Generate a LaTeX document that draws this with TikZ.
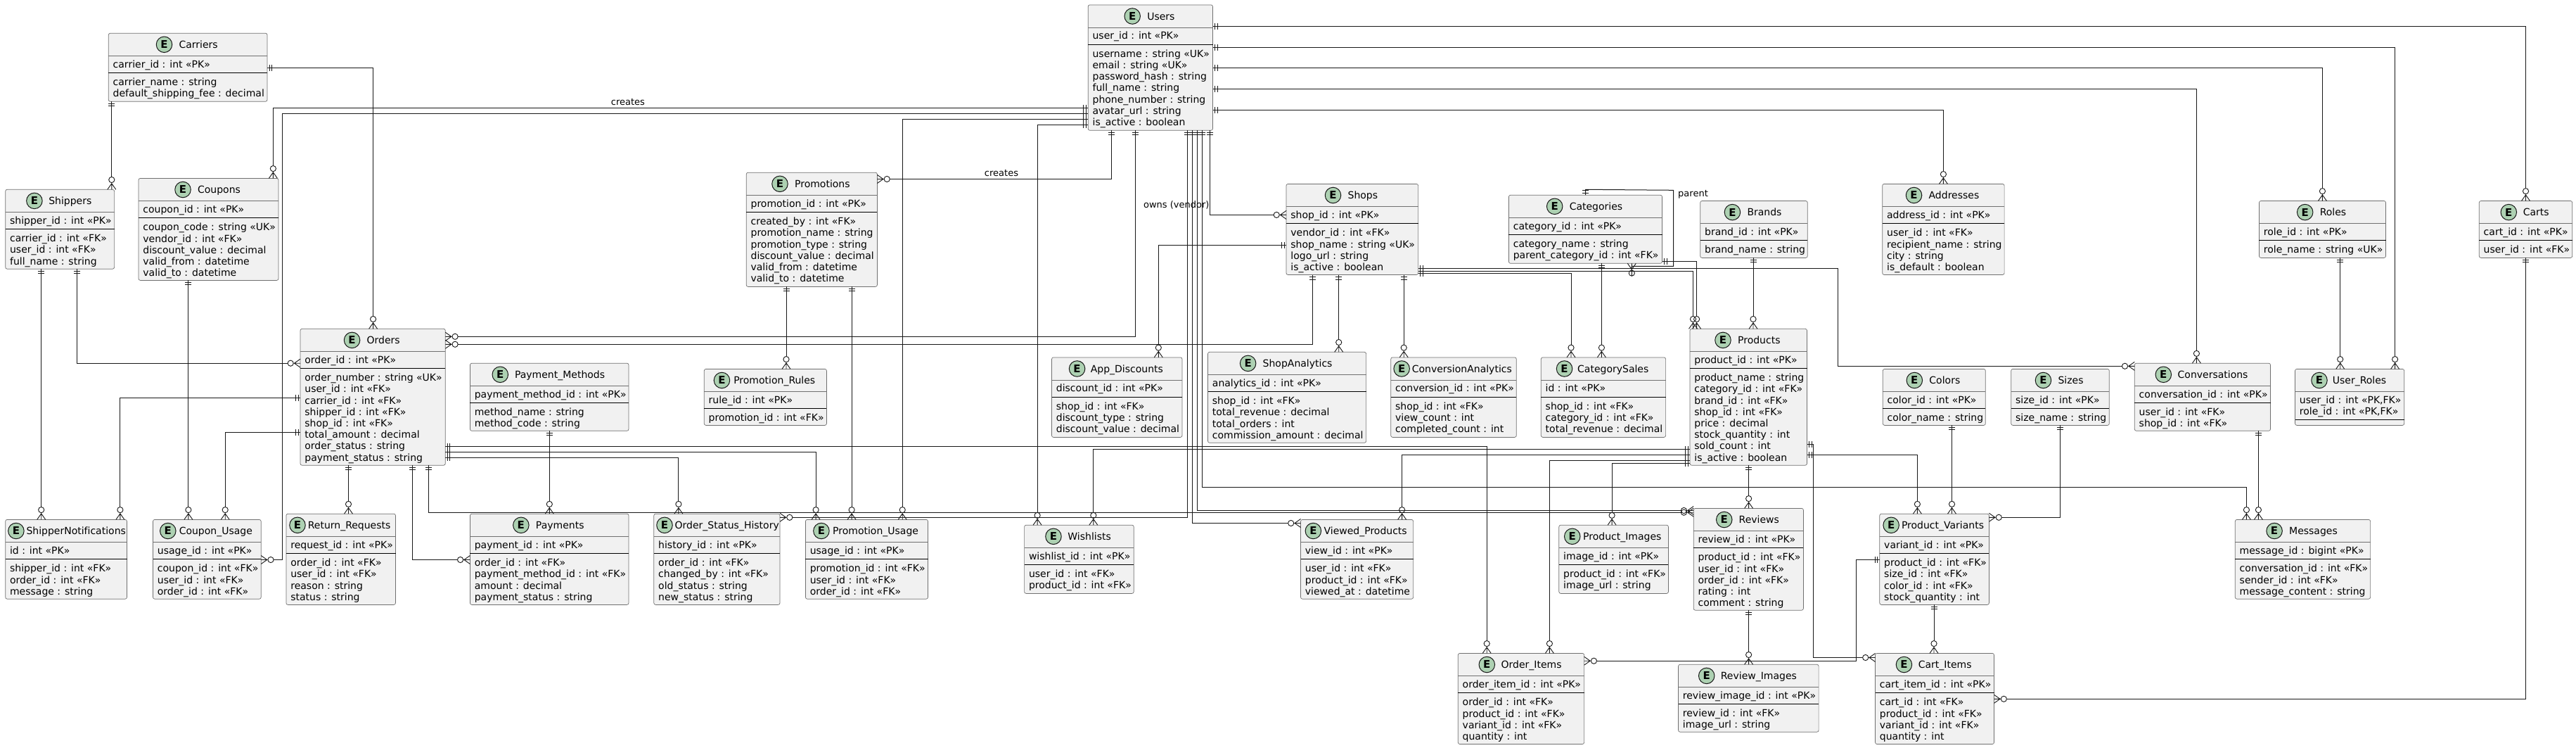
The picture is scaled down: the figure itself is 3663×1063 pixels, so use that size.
\documentclass[tikz,border=0pt]{standalone}
\usepackage{fontspec}
\setmainfont{DejaVu Sans}[Ligatures=NoCommon]
\font\titlemeasurefont="DejaVu Sans:-liga" at 14pt
\definecolor{entfill}{HTML}{F1F1F1}
\definecolor{entline}{HTML}{707070}
\definecolor{inkline}{HTML}{181818}
\definecolor{badge}{HTML}{ADD1B2}
\pgfdeclarearrow{
  name = ERone,
  setup code = {
    \pgfarrowssettipend{0pt}
    \pgfarrowssetlineend{0pt}
    \pgfarrowssetvisualtipend{0pt}
    \pgfarrowssetbackend{-7pt}
    \pgfarrowssetvisualbackend{-7pt}
  },
  drawing code = {
    \pgfsetlinewidth{0.9pt}
    \pgfpathmoveto{\pgfqpoint{-3pt}{-4.5pt}}
    \pgfpathlineto{\pgfqpoint{-3pt}{4.5pt}}
    \pgfpathmoveto{\pgfqpoint{-6.5pt}{-4.5pt}}
    \pgfpathlineto{\pgfqpoint{-6.5pt}{4.5pt}}
    \pgfusepathqstroke
  }
}
\pgfdeclarearrow{
  name = ERmany,
  setup code = {
    \pgfarrowssettipend{0pt}
    \pgfarrowssetlineend{-18pt}
    \pgfarrowssetvisualtipend{0pt}
    \pgfarrowssetbackend{-18pt}
    \pgfarrowssetvisualbackend{-18pt}
  },
  drawing code = {
    \pgfsetlinewidth{0.9pt}
    \pgfpathmoveto{\pgfqpoint{0pt}{-6pt}}
    \pgfpathlineto{\pgfqpoint{-8.5pt}{0pt}}
    \pgfpathlineto{\pgfqpoint{0pt}{6pt}}
    \pgfpathmoveto{\pgfqpoint{-8.5pt}{0pt}}
    \pgfpathlineto{\pgfqpoint{0pt}{0pt}}
    \pgfpathcircle{\pgfqpoint{-13.8pt}{0pt}}{4.1pt}
    \pgfusepathqstroke
  }
}
\catcode`\_=12
\newsavebox\titlebox
\tikzset{
  x=1pt, y=-1pt,
  entitybox/.style={draw=entline, fill=entfill, line width=0.7pt, rounded corners=2.5pt,
    inner sep=0pt, outer sep=0pt, anchor=north west},
  headrule/.style={draw=entline, line width=0.7pt},
  keyrule/.style={draw=black, line width=1pt},
  rowtext/.style={inner sep=0pt, anchor=base west, font=\fontsize{14pt}{16pt}\selectfont},
  titletext/.style={inner sep=0pt, anchor=base west, font=\fontsize{14pt}{16pt}\selectfont},
  badgecircle/.style={circle, draw=inkline, fill=badge, line width=1pt, minimum size=22.5pt, inner sep=0pt,
    font=\fontsize{15pt}{16pt}\selectfont\bfseries},
  link/.style={draw=inkline, line width=1pt, ERone-ERmany},
  linklabel/.style={inner sep=0pt, font=\fontsize{13pt}{15pt}\selectfont},
}
% name, x0, x1, y0, y1
\newcommand\entframe[5]{%
  \pgfmathsetmacro\ew{#3-#2}\pgfmathsetmacro\eh{#5-#4}%
  \node[entitybox, minimum width=\ew pt, minimum height=\eh pt] (#1) at (#2,#4) {};
  \sbox\titlebox{\titlemeasurefont #1}%
  \pgfmathsetmacro\tw{\the\wd\titlebox}%
  \pgfmathsetmacro\supp{max(0,\ew-30-\tw-6)}%
  \pgfmathsetmacro\hgap{min(6.5,\supp*0.1)}%
  \pgfmathsetmacro\cx{#2+(\supp-\hgap)/2+4+11.2}%
  \pgfmathsetmacro\tx{\cx+11.2+3.2+\hgap}%
  \pgfmathsetmacro\cy{#4+16.1}\pgfmathsetmacro\ty{#4+21.2}\pgfmathsetmacro\hy{#4+32.2}%
  \node[badgecircle] (#1-badge) at (\cx,\cy) {E};
  \node[titletext] (#1-title) at (\tx,\ty) {#1};
  \draw[headrule] (#1.west |- 0,\hy) -- (#1.east |- 0,\hy);
}
% name, x0, first baseline, tag, list
\newcommand\entrows[5]{%
  \foreach \rowitem [count=\rowno] in {#5} {%
    \pgfmathsetmacro\rx{#2+6.2}\pgfmathsetmacro\ry{#3+16.2*(\rowno-1)}%
    \node[rowtext] (#1-#4\rowno) at (\rx,\ry) {\rowitem};
  }%
}
% name, x0, x1, y0, y1, key row, attribute rows
\newcommand\entity[7]{%
  \entframe{#1}{#2}{#3}{#4}{#5}%
  \pgfmathsetmacro\sy{#4+56.1}\pgfmathsetmacro\kb{#4+49}\pgfmathsetmacro\ab{#4+74.4}%
  \draw[keyrule] (#1.west |- 0,\sy) -- (#1.east |- 0,\sy);
  \entrows{#1}{#2}{\kb}{k}{#6}%
  \entrows{#1}{#2}{\ab}{a}{#7}%
}
\begin{document}
\begin{tikzpicture}
\path[use as bounding box, fill=white] (0,0) rectangle (3663,1063);
% ---------- entities
\entity{Carriers}{154.3}{380}{47.2}{144.3}{carrier_id : int «PK»}{carrier_name : string, default_shipping_fee : decimal}
\entity{Shippers}{7.7}{162.6}{269.3}{382.2}{shipper_id : int «PK»}{carrier_id : int «FK», user_id : int «FK», full_name : string}
\entity{Coupons}{197}{396}{253.4}{398.4}{coupon_id : int «PK»}{coupon_code : string «UK», vendor_id : int «FK», discount_value : decimal, valid_from : datetime, valid_to : datetime}
\entity{Orders}{427}{633.3}{467.3}{661.2}{order_id : int «PK»}{order_number : string «UK», user_id : int «FK», carrier_id : int «FK», shipper_id : int «FK», shop_id : int «FK», total_amount : decimal, order_status : string, payment_status : string}
\entity{Payment_Methods}{668.4}{894}{516.2}{612.3}{payment_method_id : int «PK»}{method_name : string, method_code : string}
\entity{ShipperNotifications}{7.7}{180.5}{738.4}{851.2}{id : int «PK»}{shipper_id : int «FK», order_id : int «FK», message : string}
\entity{Coupon_Usage}{217.5}{371.2}{738.4}{851.2}{usage_id : int «PK»}{coupon_id : int «FK», user_id : int «FK», order_id : int «FK»}
\entity{Return_Requests}{406.9}{562.5}{730.2}{859.4}{request_id : int «PK»}{order_id : int «FK», user_id : int «FK», reason : string, status : string}
\entity{Payments}{668.4}{894}{730.2}{859.4}{payment_id : int «PK»}{order_id : int «FK», payment_method_id : int «FK», amount : decimal, payment_status : string}
\entity{Order_Status_History}{929.8}{1109}{730.2}{859.4}{history_id : int «PK»}{order_id : int «FK», changed_by : int «FK», old_status : string, new_status : string}
\entity{Promotion_Usage}{1145.4}{1319.5}{738.4}{851.2}{usage_id : int «PK»}{promotion_id : int «FK», user_id : int «FK», order_id : int «FK»}
\entity{Promotion_Rules}{1001.3}{1175.4}{524.4}{604.4}{rule_id : int «PK»}{promotion_id : int «FK»}
\entity{Users}{1547.2}{1724.5}{6.9}{185.3}{user_id : int «PK»}{username : string «UK», email : string «UK», password_hash : string, full_name : string, phone_number : string, avatar_url : string, is_active : boolean}
\entity{Promotions}{1061.2}{1247.4}{245.2}{407.4}{promotion_id : int «PK»}{created_by : int «FK», promotion_name : string, promotion_type : string, discount_value : decimal, valid_from : datetime, valid_to : datetime}
\entity{Shops}{1829}{2016.6}{261.4}{390.5}{shop_id : int «PK»}{vendor_id : int «FK», shop_name : string «UK», logo_url : string, is_active : boolean}
\entity{App_Discounts}{1495.5}{1681}{507.9}{621.4}{discount_id : int «PK»}{shop_id : int «FK», discount_type : string, discount_value : decimal}
\entity{ShopAnalytics}{1717.5}{1942.6}{500.3}{629.3}{analytics_id : int «PK»}{shop_id : int «FK», total_revenue : decimal, total_orders : int, commission_amount : decimal}
\entity{ConversionAnalytics}{1977.7}{2156.3}{507.9}{621.4}{conversion_id : int «PK»}{shop_id : int «FK», view_count : int, completed_count : int}
\entity{CategorySales}{2191.3}{2368.6}{507.9}{621.4}{id : int «PK»}{shop_id : int «FK», category_id : int «FK», total_revenue : decimal}
\entity{Categories}{2145.4}{2363.5}{277.2}{374.3}{category_id : int «PK»}{category_name : string, parent_category_id : int «FK»}
\entity{Brands}{2417.7}{2570.2}{285.5}{366.4}{brand_id : int «PK»}{brand_name : string}
\entity{Addresses}{2676.7}{2850.1}{261.4}{390.5}{address_id : int «PK»}{user_id : int «FK», recipient_name : string, city : string, is_default : boolean}
\entity{Products}{2403}{2569.5}{467.3}{661.2}{product_id : int «PK»}{product_name : string, category_id : int «FK», brand_id : int «FK», shop_id : int «FK», price : decimal, stock_quantity : int, sold_count : int, is_active : boolean}
\entity{Colors}{2677.3}{2823.3}{524.4}{604.4}{color_id : int «PK»}{color_name : string}
\entity{Sizes}{2859.7}{2999.3}{524.4}{604.4}{size_id : int «PK»}{size_name : string}
\entity{Conversations}{3035.3}{3228.5}{516.2}{612.3}{conversation_id : int «PK»}{user_id : int «FK», shop_id : int «FK»}
\entframe{User_Roles}{3263.5}{3418.7}{524.4}{604.4}
\draw[keyrule] (User_Roles.west |- 0,596.3) -- (User_Roles.east |- 0,596.3);
\entrows{User_Roles}{3263.5}{573.4}{k}{{user_id : int «PK,FK»}, {role_id : int «PK,FK»}}
\entity{Roles}{3212.4}{3392.5}{285.5}{366.4}{role_id : int «PK»}{role_name : string «UK»}
\entity{Carts}{3525.3}{3657.7}{285.5}{366.4}{cart_id : int «PK»}{user_id : int «FK»}
\entity{Messages}{3178.3}{3370.6}{738.4}{851.2}{message_id : bigint «PK»}{conversation_id : int «FK», sender_id : int «FK», message_content : string}
\entity{Wishlists}{1456.6}{1612.2}{746.2}{843.4}{wishlist_id : int «PK»}{user_id : int «FK», product_id : int «FK»}
\entity{Viewed_Products}{1849.5}{2009.6}{738.4}{851.2}{view_id : int «PK»}{user_id : int «FK», product_id : int «FK», viewed_at : datetime}
\entity{Product_Images}{2216.8}{2372.4}{746.2}{843.4}{image_id : int «PK»}{product_id : int «FK», image_url : string}
\entity{Reviews}{2408.2}{2564.4}{722.4}{867.2}{review_id : int «PK»}{product_id : int «FK», user_id : int «FK», order_id : int «FK», rating : int, comment : string}
\entity{Product_Variants}{2672.8}{2828.4}{730.2}{859.4}{variant_id : int «PK»}{product_id : int «FK», size_id : int «FK», color_id : int «FK», stock_quantity : int}
\entity{Order_Items}{2073.3}{2252.6}{928.4}{1057.5}{order_item_id : int «PK»}{order_id : int «FK», product_id : int «FK», variant_id : int «FK», quantity : int}
\entity{Review_Images}{2386.5}{2586.1}{944.3}{1040.2}{review_image_id : int «PK»}{review_id : int «FK», image_url : string}
\entity{Cart_Items}{2666.5}{2835.5}{928.4}{1057.5}{cart_item_id : int «PK»}{cart_id : int «FK», product_id : int «FK», variant_id : int «FK», quantity : int}
% ---------- connectors
\draw[link] (Carriers.south -| 158.8,0) -- (Shippers.north -| 158.8,0);
\draw[link] (Carriers.east |- 0,96.8) -| (Orders.north -| 530.6,0);
\draw[link] (Users.west |- 0,153.2) -| (Coupons.north -| 388.4,0);
\draw[link] (Users.west |- 0,161.2) -| (401.8,795.5) -- (Coupon_Usage.east |- 0,795.5);
\draw[link] (Users.west |- 0,169.4) -| (Promotion_Usage.north -| 1283.2,0);
\draw[link] (Users.west |- 0,177.3) -| (Wishlists.north -| 1475.1,0);
\draw[link] (Users.south -| 1580.4,0) |- (Promotions.east |- 0,254.5);
\draw[link] (Users.south -| 1614.2,0) |- (Orders.east |- 0,478.3);
\draw[link] (Users.south -| 1720.7,0) |- (Shops.west |- 0,305.4);
\draw[link] (Users.south -| 1688.8,0) |- (Order_Status_History.east |- 0,735.3);
\draw[link] (Users.south -| 1695.8,0) |- (Viewed_Products.west |- 0,743.5);
\draw[link] (Users.south -| 1702.8,0) |- (Reviews.west |- 0,725.5);
\draw[link] (Users.south -| 1709.8,0) -- (1709.8,692.5) -| (Messages.north -| 3194.4,0);
\draw[link] (Users.east |- 0,37.2) -| (Carts.north -| 3591.5,0);
\draw[link] (Users.east |- 0,67.5) -| (User_Roles.north -| 3405.6,0);
\draw[link] (Users.east |- 0,96.8) -| (Roles.north -| 3302.4,0);
\draw[link] (Users.east |- 0,126.4) -| (Conversations.north -| 3123.4,0);
\draw[link] (Users.east |- 0,156.3) -| (Addresses.north -| 2763.4,0);
\draw[link] (Shops.south -| 1866,0) |- (Orders.east |- 0,489.3);
\draw[link] (Shops.west |- 0,348.1) -| (App_Discounts.north -| 1647.3,0);
\draw[link] (Shops.south -| 1903.7,0) -- (ShopAnalytics.north -| 1903.7,0);
\draw[link] (Shops.south -| 1996.2,0) -- (ConversionAnalytics.north -| 1996.2,0);
\draw[link] (Shops.east |- 0,381.2) -| (2613.5,520.3) -- (Conversations.west |- 0,520.3);
\draw[link] (Shops.east |- 0,385.3) -| (Products.north -| 2407.5,0);
\draw[link] (Shops.east |- 0,388.8) -| (CategorySales.north -| 2234,0);
\draw[link] (Promotions.south -| 1118,0) -- (Promotion_Rules.north -| 1118,0);
\draw[link] (Promotions.south -| 1211.1,0) -- (Promotion_Usage.north -| 1211.1,0);
\draw[link] (Shippers.south -| 58.7,0) -- (ShipperNotifications.north -| 58.7,0);
\draw[link] (Shippers.south -| 109.7,0) |- (Orders.west |- 0,516.2);
\draw[link] (Coupons.south -| 267.9,0) -- (Coupon_Usage.north -| 267.9,0);
\draw[link] (Orders.west |- 0,565.4) -| (ShipperNotifications.north -| 170.9,0);
\draw[link] (Orders.west |- 0,614.3) -| (Coupon_Usage.north -| 320.2,0);
\draw[link] (Orders.south -| 495.5,0) -- (Return_Requests.north -| 495.5,0);
\draw[link] (Orders.south -| 586.7,0) |- (Payments.west |- 0,795.5);
\draw[link] (Orders.south -| 609.1,0) |- (Reviews.west |- 0,728.2);
\draw[link] (Orders.east |- 0,634.7) -| (Order_Items.north -| 2114.2,0);
\draw[link] (Orders.east |- 0,642.2) -| (Promotion_Usage.north -| 1160.1,0);
\draw[link] (Orders.east |- 0,650.3) -| (Order_Status_History.north -| 964.9,0);
\draw[link] (Payment_Methods.south -| 781.3,0) -- (Payments.north -| 781.3,0);
\draw[link] (Products.west |- 0,638.8) -| (Wishlists.north -| 1554.8,0);
\draw[link] (Products.west |- 0,646.6) -| (Viewed_Products.north -| 1993.6,0);
\draw[link] (Products.west |- 0,654.4) -| (Order_Items.north -| 2203.4,0);
\draw[link] (Products.west |- 0,658.5) -| (Product_Images.north -| 2292.1,0);
\draw[link] (Products.south -| 2486.6,0) -- (Reviews.north -| 2486.6,0);
\draw[link] (Products.east |- 0,646.6) -| (Product_Variants.north -| 2726.4,0);
\draw[link] (Products.east |- 0,631) -| (2578.4,934.5) -- (Cart_Items.west |- 0,934.5);
\draw[link] (Categories.south -| 2277.4,0) -- (CategorySales.north -| 2277.4,0);
\draw[link] (Categories.east |- 0,371.2) -| (Products.north -| 2412.6,0);
\draw[link] (Brands.south -| 2493,0) -- (Products.north -| 2493,0);
\draw[link] (Colors.south -| 2775.5,0) -- (Product_Variants.north -| 2775.5,0);
\draw[link] (Sizes.south -| 2929.2,0) |- (Product_Variants.east |- 0,735.3);
\draw[link] (Product_Variants.south -| 2750,0) -- (Cart_Items.north -| 2750,0);
\draw[link] (Product_Variants.west |- 0,795.5) -| (2639.7,939.2) -- (Order_Items.east |- 0,939.2);
\draw[link] (Reviews.south -| 2486.6,0) -- (Review_Images.north -| 2486.6,0);
\draw[link] (Carts.south -| 3591.5,0) |- (Cart_Items.east |- 0,993.3);
\draw[link] (Roles.south -| 3327.7,0) -- (User_Roles.north -| 3327.7,0);
\draw[link] (Conversations.south -| 3211.4,0) -- (Messages.north -| 3211.4,0);
\draw[link] (Categories.north -| 2254.5,0) -- (2254.5,269.3) -- (2379.5,270.3) -- (2379.5,378.3) -- (2320.3,378.3) -- (2320.3,392.4) -- (Categories.south -| 2320.3,0);
% ---------- labels
\node[linklabel] (label-creates-coupons) at (892.9,144.6) {creates};
\node[linklabel] (label-creates-promotions) at (1424,245.9) {creates};
\node[linklabel] (label-owns) at (1672.8,291) {owns (vendor)};
\node[linklabel] (label-parent) at (2407.5,275.8) {parent};
\end{tikzpicture}
\end{document}
